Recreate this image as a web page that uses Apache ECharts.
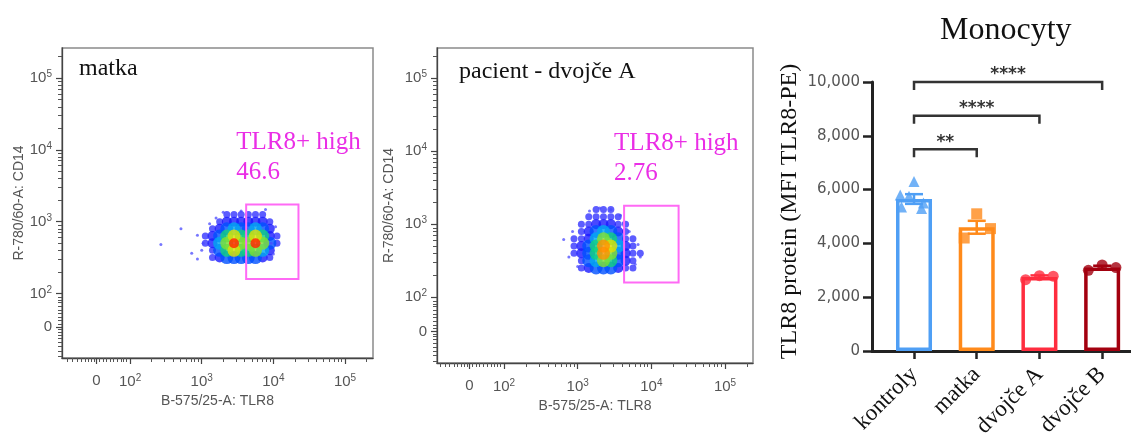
<!DOCTYPE html>
<html><head><meta charset="utf-8">
<script src="https://cdn.jsdelivr.net/npm/echarts@6/dist/echarts.min.js"></script>
<style>html,body{margin:0;padding:0;background:#fff}#c{width:1131px;height:435px}</style>
</head><body><div id="c"></div>
<script>
// ===== Flow cytometry panels (values in log10 units = decades) =====
const flowTickValues = [1.53, 2, 3, 4, 5];
const flowTickLabels = ['0', '10{s|2}', '10{s|3}', '10{s|4}', '10{s|5}'];
const flowMinorTicks = [1.13,1.2,1.26,1.32,1.37,1.42,1.46,1.5,1.57,1.62,1.67,1.72,1.77,1.82,1.87,1.91,1.95,
  2.30,2.48,2.60,2.70,2.78,2.85,2.90,2.95,3.30,3.48,3.60,3.70,3.78,3.85,3.90,3.95,
  4.30,4.48,4.60,4.70,4.78,4.85,4.90,4.95,5.30];
const flowXName = 'B-575/25-A: TLR8';
const flowYName = 'R-780/60-A: CD14';

// matka
const matkaTitle = 'matka';
const matkaBinsX = [3.05,3.15,3.25,3.35,3.45,3.55,3.65,3.75,3.85,3.95,4.05];
const matkaBinsY = [3.1,3.0,2.9,2.8,2.7,2.6,2.5];
const matkaDensity = [
  [0,0,0,1,1,1,1,1,1,0,0],
  [0,0,1,2,2,2,2,2,2,1,0],
  [0,1,2,3,4,3,3,4,3,2,0],
  [1,2,3,5,7,5,5,7,5,2,1],
  [1,2,4,6,9,6,6,9,6,3,1],
  [0,1,3,5,7,5,5,6,4,2,0],
  [0,1,2,3,3,3,3,3,2,1,0]
];
const matkaSparse = [[2.43,2.68],[2.71,2.9],[2.94,2.81],[2.86,2.56],[2.94,2.48],[3.11,2.97],[3.89,3.17],
  [4.03,2.93],[3.2,3.05],[3.3,3.13],[3.55,3.15],[3.97,2.7],[4.0,2.55],[3.02,2.7],[3.0,2.6]];
const matkaGate = [3.62, 2.2, 4.35, 3.24];
const matkaGateName = 'TLR8+ high';
const matkaGatePct = '46.6';

// pacient - dvojče A
const pacientTitle = 'pacient - dvojče A';
const pacientBinsX = [2.95,3.05,3.15,3.25,3.35,3.45,3.55,3.65,3.75,3.85];
const pacientBinsY = [3.2,3.1,3.0,2.9,2.8,2.7,2.6,2.5,2.4];
const pacientDensity = [
  [0,0,0,1,1,1,0,0,0,0],
  [0,0,1,1,1,1,1,0,0,0],
  [0,1,1,2,2,2,1,1,0,0],
  [0,1,2,3,4,3,2,1,0,0],
  [1,1,2,4,6,5,3,1,1,0],
  [1,2,3,5,8,7,4,2,1,0],
  [1,2,3,5,8,6,3,2,1,1],
  [0,1,3,4,6,5,3,2,1,0],
  [0,1,2,3,3,3,2,1,1,0]
];
const pacientSparse = [[2.81,2.79],[3.16,3.18],[3.3,3.22],[3.45,3.2],[3.58,3.12],[3.82,2.72],[3.85,2.55],
  [3.78,2.45],[2.88,2.55],[2.93,2.9],[3.0,2.42],[3.7,2.9],[3.62,3.02]];
const pacientGate = [3.63, 2.2, 4.37, 3.25];
const pacientGateName = 'TLR8+ high';
const pacientGatePct = '2.76';

// ===== Bar chart: Monocyty =====
const barTitle = 'Monocyty';
const barCategories = ['kontroly', 'matka', 'dvojče A', 'dvojče B'];
const barMeans = [5650, 4600, 2750, 3100];
const barErrors = [180, 240, 60, 70];
const kontrolyPoints = [6300, 5800, 5750, 5500, 5350, 5300];
const kontrolyJitter = [0, -0.22, -0.08, 0.15, -0.2, 0.12];
const matkaPoints = [5100, 4550, 4200];
const matkaJitter = [0, 0.22, -0.2];
const dvojceAPoints = [2650, 2800, 2780];
const dvojceAJitter = [-0.22, 0, 0.22];
const dvojceBPoints = [3000, 3200, 3100];
const dvojceBJitter = [-0.22, 0, 0.22];
const comparisons = [[0, 1, 7500, '**'], [0, 2, 8750, '****'], [0, 3, 10000, '****']];
const barYName = 'TLR8 protein (MFI TLR8-PE)';

// ===== build =====
const colors = ['#4f9ff5', '#ff8a1a', '#ff2d3f', '#a3000f'];
const SANS = 'Liberation Sans', SERIF = 'Liberation Serif';

function cells(xs, ys, dens) {
  const out = [];
  ys.forEach((y, r) => xs.forEach((x, c) => { if (dens[r][c] > 0) out.push([x, y, dens[r][c]]); }));
  return out.sort((a, b) => a[2] - b[2]);
}
function flowLabel(v) {
  for (let i = 0; i < flowTickValues.length; i++) if (Math.abs(flowTickValues[i] - v) < 1e-6) return flowTickLabels[i];
  return '';
}
const labelStyle = { fontFamily: SANS, fontSize: 15, color: '#555', rich: { s: { fontFamily: SANS, fontSize: 10, color: '#555', verticalAlign: 'top', padding: [0, 0, 7, 0] } } };

function flowAxes(dim, gi, min, max, name, gap) {
  const major = {
    type: 'value', gridIndex: gi, min: min, max: max, position: dim === 'x' ? 'bottom' : 'left',
    name: name, nameLocation: 'middle', nameGap: gap,
    nameTextStyle: { fontFamily: SANS, fontSize: 14, color: '#555' },
    axisLine: { show: true, onZero: false, lineStyle: { color: '#444', width: 1.3 } },
    axisTick: { show: true, length: 6, customValues: flowTickValues, lineStyle: { color: '#444', width: 1.2 } },
    axisLabel: Object.assign({ customValues: flowTickValues, formatter: flowLabel, margin: dim === 'x' ? 15 : 10 }, labelStyle),
    splitLine: { show: false }
  };
  const minor = {
    type: 'value', gridIndex: gi, min: min, max: max, position: dim === 'x' ? 'bottom' : 'left',
    axisLine: { show: false, onZero: false },
    axisTick: { show: true, length: 4, customValues: flowMinorTicks, lineStyle: { color: '#555', width: 1 } },
    axisLabel: { show: false }, splitLine: { show: false }
  };
  return [major, minor];
}

function gateRenderer(name, pct) {
  return function (params, api) {
    const tl = api.coord([api.value(0), api.value(3)]);
    const br = api.coord([api.value(2), api.value(1)]);
    return { type: 'group', children: [
      { type: 'rect', shape: { x: tl[0], y: tl[1], width: br[0] - tl[0], height: br[1] - tl[1] },
        style: { fill: 'none', stroke: '#ff6af5', lineWidth: 2 } },
      { type: 'text', x: tl[0] - 10, y: tl[1] - 62,
        style: { text: name, fill: '#ea2ee6', fontFamily: SERIF, fontSize: 25, verticalAlign: 'middle' } },
      { type: 'text', x: tl[0] - 10, y: tl[1] - 32,
        style: { text: pct, fill: '#ea2ee6', fontFamily: SERIF, fontSize: 25, verticalAlign: 'middle' } }
    ] };
  };
}

const densSize = v => v[2] <= 1 ? 7 : (v[2] <= 2 ? 10 : (v[2] >= 9 ? 10 : 13));
const sparseStyle = { color: '#4a4aff', opacity: 0.75 };

const xAxes = [].concat(
  flowAxes('x', 0, 1.05, 5.39, flowXName, 35),
  flowAxes('x', 1, 1.09, 5.38, flowXName, 36),
  [{
    type: 'value', gridIndex: 2, min: -0.67, max: 3.5,
    axisLine: { show: true, onZero: false, lineStyle: { color: '#222', width: 3 } },
    axisTick: { show: true, length: 8, customValues: [0, 1, 2, 3], lineStyle: { color: '#222', width: 2.5 } },
    axisLabel: { customValues: [0, 1, 2, 3], formatter: v => barCategories[Math.round(v)] || '',
      rotate: 45, margin: 20, fontFamily: SERIF, fontSize: 23, color: '#111' },
    splitLine: { show: false }
  }]
);
const yAxes = [].concat(
  flowAxes('y', 0, 1.1, 5.42, flowYName, 36),
  flowAxes('y', 1, 1.1, 5.41, flowYName, 41),
  [{
    type: 'value', gridIndex: 2, min: 0, max: 10000, interval: 2000,
    name: barYName, nameLocation: 'middle', nameGap: 70,
    nameTextStyle: { fontFamily: SERIF, fontSize: 24, color: '#111', padding: [0, 0, 0, 10] },
    axisLine: { show: true, onZero: false, lineStyle: { color: '#222', width: 3 } },
    axisTick: { show: true, length: 9, lineStyle: { color: '#222', width: 2.5 } },
    axisLabel: { margin: 12, fontFamily: 'DejaVu Sans', fontSize: 15, color: '#555',
      formatter: v => Number(v).toLocaleString('en-US') },
    splitLine: { show: false }
  }]
);

function pointSeries(vals, jitter, idx, symbol) {
  return {
    type: 'scatter', xAxisIndex: 4, yAxisIndex: 4, symbol: symbol, symbolSize: 11, z: 5,
    itemStyle: { color: colors[idx] },
    data: vals.map((v, i) => [idx + jitter[i], v])
  };
}

const option = {
  animation: false,
  backgroundColor: '#fff',
  title: [
    { text: matkaTitle, left: 74, top: 52, textStyle: { fontFamily: SERIF, fontSize: 24, fontWeight: 'normal', color: '#111' } },
    { text: pacientTitle, left: 454, top: 55, textStyle: { fontFamily: SERIF, fontSize: 24, fontWeight: 'normal', color: '#111' } },
    { text: barTitle, left: 935, top: 10, textStyle: { fontFamily: SERIF, fontSize: 32, fontWeight: 'normal', color: '#111' } }
  ],
  grid: [
    { left: 62, top: 48, width: 311, height: 310, show: true, borderColor: '#8a8a8a', borderWidth: 1.5, outerBoundsMode: 'none', containLabel: false },
    { left: 437, top: 48, width: 316, height: 315, show: true, borderColor: '#8a8a8a', borderWidth: 1.5, outerBoundsMode: 'none', containLabel: false },
    { left: 872, top: 82, width: 261.5, height: 269, outerBoundsMode: 'none', containLabel: false }
  ],
  xAxis: xAxes,
  yAxis: yAxes,
  visualMap: {
    type: 'continuous', show: false, seriesIndex: [0, 3], dimension: 2, min: 1, max: 9,
    inRange: { color: ['#3434ff', '#1a1aff', '#0050ff', '#00a8f0', '#10d080', '#80e030', '#e0e000', '#ff9000', '#ff2000'] }
  },
  series: [
    { type: 'scatter', xAxisIndex: 0, yAxisIndex: 0, symbolSize: densSize, data: cells(matkaBinsX, matkaBinsY, matkaDensity) },
    { type: 'scatter', xAxisIndex: 0, yAxisIndex: 0, symbolSize: 3, itemStyle: sparseStyle, data: matkaSparse },
    { type: 'custom', xAxisIndex: 0, yAxisIndex: 0, renderItem: gateRenderer(matkaGateName, matkaGatePct), data: [matkaGate], z: 4 },
    { type: 'scatter', xAxisIndex: 2, yAxisIndex: 2, symbolSize: densSize, data: cells(pacientBinsX, pacientBinsY, pacientDensity) },
    { type: 'scatter', xAxisIndex: 2, yAxisIndex: 2, symbolSize: 3, itemStyle: sparseStyle, data: pacientSparse },
    { type: 'custom', xAxisIndex: 2, yAxisIndex: 2, renderItem: gateRenderer(pacientGateName, pacientGatePct), data: [pacientGate], z: 4 },
    {
      type: 'bar', xAxisIndex: 4, yAxisIndex: 4, barWidth: 36,
      data: barMeans.map((v, i) => ({ value: [i, v], itemStyle: { color: '#fff', borderColor: colors[i], borderWidth: 3.5 } }))
    },
    {
      type: 'custom', xAxisIndex: 4, yAxisIndex: 4, z: 4,
      renderItem: function (params, api) {
        const x = api.value(0), m = api.value(1), e = api.value(2);
        const hi = api.coord([x, m + e]), lo = api.coord([x, m - e]);
        const c = colors[params.dataIndex];
        const st = { stroke: c, lineWidth: 2.5 };
        return { type: 'group', children: [
          { type: 'line', shape: { x1: hi[0], y1: hi[1], x2: lo[0], y2: lo[1] }, style: st },
          { type: 'line', shape: { x1: hi[0] - 9, y1: hi[1], x2: hi[0] + 9, y2: hi[1] }, style: st },
          { type: 'line', shape: { x1: lo[0] - 9, y1: lo[1], x2: lo[0] + 9, y2: lo[1] }, style: st }
        ] };
      },
      data: barMeans.map((v, i) => [i, v, barErrors[i]])
    },
    pointSeries(kontrolyPoints, kontrolyJitter, 0, 'triangle'),
    pointSeries(matkaPoints, matkaJitter, 1, 'rect'),
    pointSeries(dvojceAPoints, dvojceAJitter, 2, 'circle'),
    pointSeries(dvojceBPoints, dvojceBJitter, 3, 'circle'),
    {
      type: 'custom', xAxisIndex: 4, yAxisIndex: 4, clip: false, z: 6,
      renderItem: function (params, api) {
        const a = api.coord([api.value(0), api.value(2)]);
        const b = api.coord([api.value(1), api.value(2)]);
        const drop = 8;
        return { type: 'group', children: [
          { type: 'polyline', shape: { points: [[a[0], a[1] + drop], [a[0], a[1]], [b[0], b[1]], [b[0], b[1] + drop]] },
            style: { fill: 'none', stroke: '#333', lineWidth: 2.5 } },
          { type: 'text', x: (a[0] + b[0]) / 2, y: a[1] - 7,
            style: { text: comparisons[params.dataIndex][3], fill: '#333', fontFamily: 'DejaVu Sans', fontWeight: 'bold',
              fontSize: 17, align: 'center', verticalAlign: 'middle' } }
        ] };
      },
      data: comparisons.map(c => [c[0], c[1], c[2]])
    }
  ]
};
const chart = echarts.init(document.getElementById('c'), null, { renderer: 'canvas' });
chart.setOption(option);
</script></body></html>
